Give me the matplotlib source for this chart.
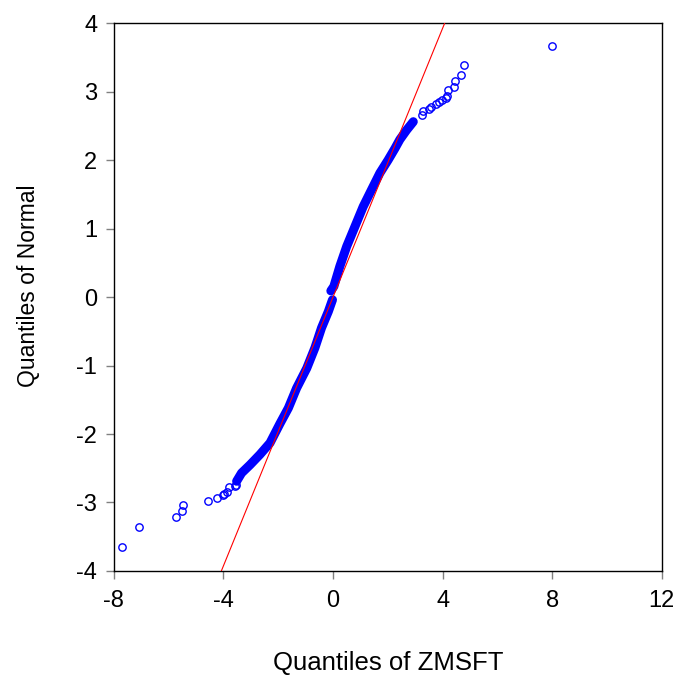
import matplotlib
matplotlib.use("Agg")
import matplotlib.pyplot as plt

plt.rcParams["font.family"] = ["Liberation Sans", "DejaVu Sans"]
plt.rcParams["axes.unicode_minus"] = False

# dense part of the Q-Q cloud (x = ZMSFT quantile, y = normal quantile)
upper_x = [-0.08, 0.03, 0.25, 0.50, 0.80, 1.10, 1.41, 1.71, 2.01, 2.26, 2.44, 2.69, 2.93]
upper_y = [0.09, 0.155, 0.45, 0.74, 1.03, 1.32, 1.57, 1.81, 2.00, 2.17, 2.30, 2.44, 2.56]
lower_x = [-3.52, -3.34, -3.03, -2.67, -2.30, -1.94, -1.63, -1.33, -0.96, -0.66, -0.42, -0.17, -0.02]
lower_y = [-2.69, -2.57, -2.45, -2.30, -2.13, -1.85, -1.62, -1.33, -1.04, -0.74, -0.45, -0.21, -0.04]

# individual tail observations
tail_x = [8.0, 4.77, 4.69, 4.46, 4.41, 4.20, 4.17, 4.11, 3.96, 3.88, 3.76, 3.56, 3.50, 3.29, 3.26,
          -3.54, -3.58, -3.79, -3.88, -3.98, -4.03, -4.25, -4.55, -5.48, -5.51, -5.72, -7.09, -7.70]
tail_y = [3.67, 3.39, 3.245, 3.15, 3.07, 3.02, 2.94, 2.90, 2.88, 2.855, 2.82, 2.77, 2.74, 2.71, 2.66,
          -2.75, -2.76, -2.78, -2.84, -2.88, -2.89, -2.93, -2.98, -3.04, -3.12, -3.21, -3.36, -3.65]

line_slope = 0.981
x_ticks = [-8, -4, 0, 4, 8, 12]
y_ticks = [-4, -3, -2, -1, 0, 1, 2, 3, 4]

fig = plt.figure(figsize=(6.78, 6.77), dpi=100)
ax = fig.add_axes([0.168, 0.1566, 0.808, 0.8093])

blue = "#0000ff"
for xs, ys in [(upper_x, upper_y), (lower_x, lower_y)]:
    ax.plot(xs, ys, color=blue, linewidth=6.5, solid_capstyle="round",
            solid_joinstyle="round", zorder=2)
ax.plot(tail_x, tail_y, "o", markerfacecolor="none", markeredgecolor=blue,
        markersize=5.3, markeredgewidth=1.0, linestyle="none", zorder=2)

ax.axline((0, 0), slope=line_slope, color="#ff0000", linewidth=0.8, zorder=3)

ax.set_xlim(-8, 12)
ax.set_ylim(-4, 4)
ax.set_xticks(x_ticks)
ax.set_yticks(y_ticks)
ax.tick_params(direction="out", length=6, width=1, color="#808080",
               labelsize=17, labelcolor="black")
ax.tick_params(axis="x", pad=8)
ax.tick_params(axis="y", pad=6)
for s in ax.spines.values():
    s.set_linewidth(1.0)
    s.set_color("black")

ax.set_xlabel("Quantiles of ZMSFT", fontsize=18.5, labelpad=28)
ax.set_ylabel("Quantiles of Normal", fontsize=16.5)
ax.yaxis.set_label_coords(-0.135, 0.52)

fig.savefig("out.png", dpi=100)
